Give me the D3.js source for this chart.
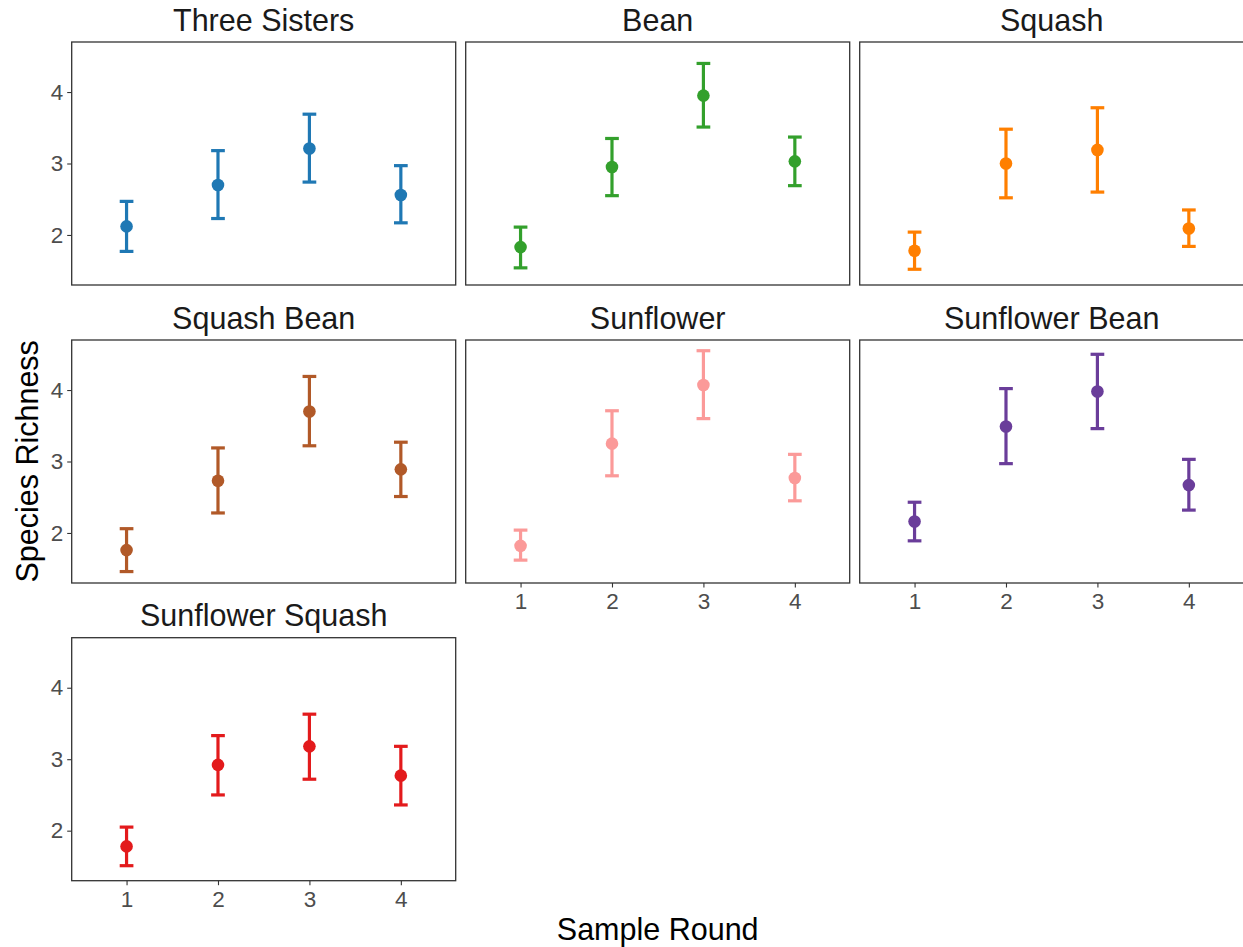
<!DOCTYPE html>
<html>
<head>
<meta charset="utf-8">
<script src="https://cdn.jsdelivr.net/npm/d3@7"></script>
<style>
  html, body { margin: 0; padding: 0; background: #fff; }
  svg { display: block; font-family: "Liberation Sans", Arial, Helvetica, sans-serif; }
</style>
</head>
<body>
<svg id="chart" width="1243" height="947"></svg>
<script>
// Facets (crop treatments) and their colours
const facets = ["Three Sisters", "Bean", "Squash", "Squash Bean", "Sunflower", "Sunflower Bean", "Sunflower Squash"];
const facetColors = ["#1F78B4", "#33A02C", "#FF7F00", "#B15928", "#FB9A99", "#6A3D9A", "#E31A1C"];

// Sample rounds along x
const rounds = [1, 2, 3, 4];

// Mean species richness per facet and round
const meanRichness = [
  [2.12, 2.70, 3.21, 2.56],
  [1.83, 2.95, 3.95, 3.03],
  [1.78, 3.00, 3.19, 2.09],
  [1.76, 2.73, 3.70, 2.89],
  [1.82, 3.25, 4.07, 2.77],
  [2.16, 3.49, 3.98, 2.67],
  [1.78, 2.92, 3.18, 2.77]
];
// Lower and upper error bar limits
const lowerRichness = [
  [1.77, 2.23, 2.74, 2.17],
  [1.54, 2.55, 3.51, 2.69],
  [1.52, 2.52, 2.60, 1.84],
  [1.46, 2.28, 3.22, 2.51],
  [1.62, 2.80, 3.60, 2.45],
  [1.89, 2.97, 3.46, 2.32],
  [1.51, 2.50, 2.72, 2.36]
];
const upperRichness = [
  [2.47, 3.18, 3.69, 2.97],
  [2.11, 3.35, 4.40, 3.37],
  [2.04, 3.48, 3.78, 2.35],
  [2.06, 3.19, 4.19, 3.27],
  [2.04, 3.71, 4.55, 3.10],
  [2.43, 4.02, 4.50, 3.03],
  [2.05, 3.33, 3.63, 3.18]
];

const yTicks = [2, 3, 4];

const svg = d3.select("#chart");
const panelW = 384, panelH = 243;
const colX = [71.7, 465.7, 859.7];
const rowY = [42, 340, 637.7];
const nCols = 3;

const x = d3.scaleLinear().domain([0.4, 4.6]).range([0, panelW]);
const y = d3.scaleLinear().domain([1.3, 4.7]).range([panelH, 0]);
const capHalf = (x(1.15) - x(1)) / 2;

const tickFont = 22.5;
const titleFont = 30.5;

facets.forEach((name, i) => {
  const col = i % nCols, row = Math.floor(i / nCols);
  const g = svg.append("g").attr("transform", `translate(${colX[col]},${rowY[row]})`);
  const color = facetColors[i];

  // strip title
  g.append("text")
    .attr("x", panelW / 2).attr("y", -11.5)
    .attr("text-anchor", "middle")
    .attr("font-size", titleFont)
    .attr("fill", "#1A1A1A")
    .text(name);

  // y axis on the left column
  if (col === 0) {
    const ya = g.append("g").call(d3.axisLeft(y).tickValues(yTicks).tickSize(4.5).tickPadding(4).tickFormat(d3.format("d")));
    ya.select(".domain").remove();
    ya.selectAll(".tick line").attr("stroke", "#333").attr("stroke-width", 1.1);
    ya.selectAll(".tick text").attr("font-size", tickFont).attr("fill", "#4D4D4D").attr("font-family", "Liberation Sans, Arial, sans-serif");
  }
  // x axis on the bottom panel of each column
  const isBottom = (i + nCols >= facets.length);
  if (isBottom) {
    const xa = g.append("g").attr("transform", `translate(0,${panelH})`)
      .call(d3.axisBottom(x).tickValues(rounds).tickSize(4.5).tickPadding(5.5).tickFormat(d3.format("d")));
    xa.select(".domain").remove();
    xa.selectAll(".tick line").attr("stroke", "#333").attr("stroke-width", 1.1);
    xa.selectAll(".tick text").attr("font-size", tickFont).attr("fill", "#4D4D4D").attr("font-family", "Liberation Sans, Arial, sans-serif");
  }

  const pts = rounds.map((r, j) => ({ r, m: meanRichness[i][j], lo: lowerRichness[i][j], hi: upperRichness[i][j] }));

  const eb = g.append("g").attr("stroke", color).attr("stroke-width", 3.2).attr("fill", "none");
  pts.forEach(p => {
    eb.append("line").attr("x1", x(p.r)).attr("x2", x(p.r)).attr("y1", y(p.lo)).attr("y2", y(p.hi));
    eb.append("line").attr("x1", x(p.r) - capHalf).attr("x2", x(p.r) + capHalf).attr("y1", y(p.lo)).attr("y2", y(p.lo));
    eb.append("line").attr("x1", x(p.r) - capHalf).attr("x2", x(p.r) + capHalf).attr("y1", y(p.hi)).attr("y2", y(p.hi));
  });
  g.append("g").selectAll("circle").data(pts).join("circle")
    .attr("cx", d => x(d.r)).attr("cy", d => y(d.m)).attr("r", 6.3).attr("fill", color);

  // panel border
  g.append("rect").attr("x", 0).attr("y", 0).attr("width", panelW).attr("height", panelH)
    .attr("fill", "none").attr("stroke", "#333").attr("stroke-width", 1.3);
});

// axis titles
svg.append("text")
  .attr("x", (colX[0] + colX[2] + panelW) / 2).attr("y", 940)
  .attr("text-anchor", "middle").attr("font-size", titleFont).attr("fill", "#000")
  .text("Sample Round");
svg.append("text")
  .attr("transform", `translate(38,${(rowY[0] + rowY[2] + panelH) / 2}) rotate(-90)`)
  .attr("text-anchor", "middle").attr("font-size", titleFont).attr("fill", "#000")
  .text("Species Richness");
</script>
</body>
</html>
